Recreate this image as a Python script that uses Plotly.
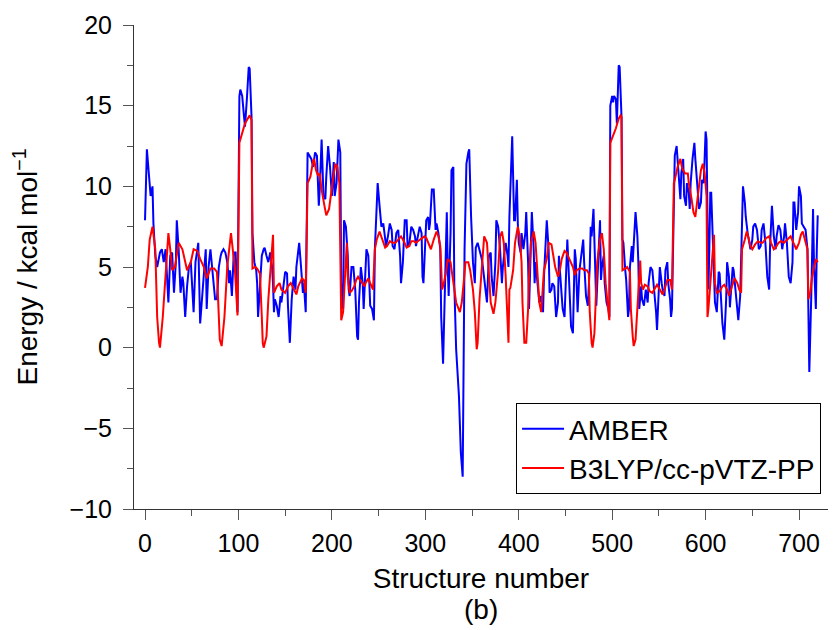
import plotly.graph_objects as go

# AMBER (blue) — structure number / energy
amber_x = [0,2,6,8,9,11,13,15,16,18,20,22,24,25,27,29,31,33,34,36,38,40,41,43,45,47,49,50,52,54,56,57,59,61,63,65,66,68,70,72,73,75,77,79,81,82,84,86,88,90,91,93,95,97,99,
101,102,104,106,107,109,111,112,114,115,117,119,120,121,123,125,127,128,130,132,134,136,137,138,139,141,143,145,146,148,150,152,153,155,157,159,161,162,164,165,167,169,170,172,
174,176,178,180,181,182,184,185,186,187,189,191,193,194,196,198,200,202,203,205,207,209,210,212,213,215,217,218,219,221,223,225,227,228,229,231,233,234,235,237,239,240,241,243,245,
246,248,249,251,253,255,257,258,260,262,264,265,267,269,271,273,274,276,278,280,281,283,285,287,289,290,292,294,296,297,298,299,301,303,304,305,307,309,311,312,314,316,317,319,320,
322,323,324,325,327,328,330,331,333,335,336,338,340,342,344,346,347,349,351,353,354,356,358,360,361,363,365,366,368,370,371,373,375,376,378,380,382,383,385,386,388,389,390,392,393,
394,395,396,398,399,400,402,403,405,407,408,410,411,413,414,416,417,418,420,422,424,426,427,429,430,432,433,435,436,438,440,442,443,445,447,449,451,452,454,456,458,460,461,463,465,
467,469,470,472,474,476,477,478,480,482,483,485,487,488,489,491,492,494,496,497,498,500,501,502,504,505,506,507,508,509,510,511,512,514,515,517,518,519,521,522,524,525,527,528,529,
531,532,534,536,538,539,541,543,545,547,548,550,551,553,554,556,557,559,560,562,563,564,566,567,569,570,572,573,574,576,577,579,580,582,583,584,586,588,589,591,593,595,596,598,599,
600,601,603,604,605,606,608,609,610,612,614,615,617,618,620,622,623,625,626,628,629,630,632,634,635,637,639,640,642,643,645,646,648,650,651,653,655,657,659,660,662,664,666,668,669,
671,673,675,676,678,680,682,684,685,687,689,691,693,694,695,697,699,700,702,703,705,707,709,710,711,713,714,715,716,718,719,720]
amber_y = [7.9,12.3,9.4,10.0,7.7,5.7,5.0,5.5,5.9,6.1,5.3,6.1,4.0,2.8,5.7,5.9,3.4,5.3,7.9,6.1,3.4,4.4,4.0,1.9,3.8,5.0,5.3,4.0,2.2,5.3,6.3,6.5,1.5,3.0,5.0,6.1,2.4,5.0,6.1,4.8,4.0,3.0,3.0,5.0,5.7,5.9,6.1,5.9,5.3,4.0,4.8,3.2,5.9,5.9,2.2,
15.6,16.0,15.6,14.3,13.7,15.4,17.4,17.3,14.3,7.1,5.3,4.8,4.0,1.9,4.0,5.7,6.1,6.2,5.7,5.3,5.9,5.0,4.0,2.2,3.0,2.6,1.9,3.2,2.8,3.6,4.7,4.6,2.6,0.3,3.0,4.4,3.6,5.0,6.1,6.5,5.0,3.4,4.0,2.2,
12.1,11.9,11.7,11.2,11.7,12.1,11.9,9.8,8.8,9.8,12.9,9.4,9.2,10.6,12.5,11.2,9.4,11.5,9.4,10.2,12.9,12.1,4.0,2.4,7.9,7.5,5.7,3.6,3.2,5.0,5.0,3.6,0.7,0.5,2.8,5.0,4.0,2.4,4.0,6.1,5.7,4.0,2.6,2.4,1.7,
6.1,9.8,10.2,8.8,7.5,7.7,6.5,6.3,6.9,7.7,7.3,6.3,6.1,7.1,7.3,5.7,4.0,5.3,7.9,7.9,6.3,6.5,7.5,7.3,6.9,6.3,6.9,7.5,7.1,4.4,4.0,5.3,7.9,8.1,7.3,7.7,9.8,9.8,7.3,7.7,7.1,6.1,1.9,-1.0,1.9,
6.1,8.4,5.0,3.2,7.1,11.0,11.2,4.0,-0.1,-2.5,-3.0,-6.5,-8.0,6.1,11.4,12.1,12.3,8.1,5.3,4.0,6.2,6.5,6.1,5.6,5.3,4.4,3.6,2.8,5.7,5.9,4.4,3.2,5.3,7.9,7.5,6.1,4.0,5.0,6.1,6.5,5.7,5.0,8.1,12.3,13.1,
10.6,7.9,7.9,10.4,7.7,6.5,5.9,7.1,6.1,7.1,8.4,5.3,2.4,6.1,8.4,6.1,4.0,5.3,4.0,2.8,3.2,2.2,4.4,6.7,7.9,6.1,3.4,3.6,4.0,3.8,1.9,2.8,5.7,4.0,2.4,1.9,5.3,6.7,4.0,1.3,0.9,6.1,5.5,2.2,4.8,
5.7,6.7,5.3,3.2,2.6,5.0,7.5,6.9,8.6,5.3,2.6,5.3,7.9,4.2,5.0,5.7,4.0,2.8,2.4,1.9,15.0,15.6,15.2,15.6,15.4,13.9,15.2,17.5,17.4,15.8,14.3,6.7,6.5,4.8,4.2,1.9,2.4,5.0,6.3,5.3,7.9,8.4,6.9,5.3,2.4,
3.8,3.0,2.6,3.6,2.8,4.0,5.0,4.8,3.6,2.2,1.1,3.6,5.0,4.0,3.6,3.2,4.8,5.3,4.0,3.0,1.9,2.4,10.2,11.9,12.5,11.7,9.8,9.2,10.8,11.7,9.4,8.8,10.2,9.6,8.6,10.2,11.7,12.7,11.7,9.8,8.6,9.0,10.4,10.2,11.7,
13.4,12.9,3.6,6.1,9.6,9.6,5.7,4.0,2.8,2.2,4.7,4.6,2.8,1.5,0.5,3.0,5.3,4.4,2.5,4.0,5.0,4.8,3.6,2.4,1.7,3.2,7.1,10.0,9.0,8.1,7.1,6.7,6.1,6.7,7.5,7.7,7.3,6.1,6.3,7.3,7.7,6.5,4.4,3.6,6.3,
8.8,6.9,6.1,6.9,7.6,7.3,6.1,6.9,7.7,6.5,4.4,4.0,5.3,9.0,9.0,7.3,8.4,10.0,9.4,7.7,7.5,7.3,6.1,1.9,-1.5,3.0,6.9,8.6,5.3,2.4,6.1,8.2]

# B3LYP/cc-pVTZ-PP (red)
b3lyp_x = [0,3,5,8,11,13,15,16,19,23,25,27,29,32,36,40,45,49,52,56,59,63,66,70,74,77,80,82,85,88,92,96,98,99,101,104,107,112,114,115,118,120,123,125,126,127,130,132,135,137,138,
141,144,146,150,153,156,159,162,164,168,170,172,174,177,180,181,183,185,187,189,192,194,197,199,202,204,206,208,210,212,214,216,217,219,221,224,226,228,230,233,235,236,239,241,244,
246,248,251,254,257,259,262,265,268,271,274,277,280,283,285,288,290,292,296,299,301,304,306,309,312,314,316,318,319,322,324,327,330,333,337,339,341,343,346,348,351,353,355,356,358,
361,363,366,368,370,373,375,378,380,382,384,386,388,389,390,391,394,396,399,401,403,404,406,408,410,411,413,416,418,420,422,424,426,427,430,432,435,437,439,442,444,446,449,451,454,
458,460,462,465,468,470,473,475,476,478,479,481,482,484,487,489,491,493,495,497,498,501,504,507,509,510,511,514,516,519,520,522,523,525,527,529,530,531,533,535,538,540,543,546,548,
551,554,556,559,562,564,566,567,570,573,575,578,581,582,585,587,589,590,593,595,597,599,601,602,603,605,607,609,610,612,615,618,620,623,625,628,631,634,636,638,639,642,644,646,648,
650,653,656,659,661,665,668,670,673,675,678,681,684,686,689,691,694,697,700,702,704,707,709,710,712,714,716,718,719,720]
b3lyp_y = [3.7,5.0,6.7,7.5,6.1,1.9,0.3,0.0,1.9,5.0,7.1,6.1,4.8,5.0,6.5,6.1,4.8,5.3,6.1,6.0,5.5,5.0,4.3,4.9,4.9,4.7,0.5,0.1,1.9,5.0,7.1,5.0,2.4,2.0,12.7,13.3,13.9,14.4,14.1,4.9,5.0,4.9,4.6,1.9,0.3,0.0,0.7,3.0,5.7,7.0,3.4,
3.8,4.0,3.6,3.4,3.8,4.0,3.6,3.3,3.8,4.3,4.2,3.4,10.2,10.6,11.6,11.7,11.0,10.7,10.8,9.8,8.8,8.2,8.6,9.6,10.8,11.4,11.2,10.2,1.7,2.2,4.0,6.5,4.4,3.4,3.5,3.8,4.2,4.4,4.2,4.0,3.8,4.0,4.3,4.0,3.6,
6.1,6.7,7.2,6.7,6.2,6.3,6.6,6.5,6.5,6.7,6.9,6.6,6.2,6.3,6.6,6.6,6.5,6.6,6.8,6.9,6.8,6.3,6.1,6.7,7.2,6.9,6.3,3.6,3.8,4.6,5.5,5.3,4.0,2.8,2.2,2.8,4.0,5.3,5.3,4.8,3.6,2.2,-0.1,0.3,3.0,
5.7,6.9,6.5,4.8,2.8,2.1,2.8,4.8,6.9,7.2,6.5,4.4,1.9,0.3,3.6,3.7,4.8,6.5,7.5,6.9,5.3,2.8,0.3,0.3,2.4,4.4,6.5,7.2,6.5,4.4,2.8,2.2,3.6,4.8,5.5,6.5,6.4,5.7,5.0,4.4,4.8,5.5,6.0,5.9,5.5,
5.0,4.5,4.8,4.9,4.9,4.8,4.8,4.6,2.2,0.3,0.0,0.9,2.8,5.3,6.7,7.1,6.1,4.0,2.8,1.7,12.7,13.1,13.6,14.2,14.4,14.3,4.8,4.9,5.0,4.7,2.4,0.7,0.1,0.5,2.4,4.0,5.4,4.0,3.6,3.9,3.8,3.5,3.4,3.7,3.9,
3.6,3.3,3.6,4.2,4.2,3.6,10.2,10.4,11.2,11.7,11.1,10.8,10.8,10.2,9.2,8.4,8.1,8.6,9.8,11.0,11.4,10.8,9.4,1.9,2.4,4.0,5.7,7.0,4.0,3.4,3.5,3.8,3.9,3.6,3.2,3.8,4.3,4.0,3.6,3.4,6.1,6.7,7.2,6.8,6.3,
6.1,6.4,6.6,6.5,6.5,6.8,6.9,6.5,6.1,6.2,6.5,6.6,6.5,6.6,6.8,6.9,6.5,6.1,6.5,7.0,7.2,6.6,6.1,3.0,3.4,4.4,5.0,5.5,5.4,5.3]

x_ticks = [0, 100, 200, 300, 400, 500, 600, 700]
y_ticks = [-10, -5, 0, 5, 10, 15, 20]
y_tick_text = ["\u221210", "\u22125", "0", "5", "10", "15", "20"]

FONT = "Liberation Sans, Arial, Helvetica, sans-serif"

fig = go.Figure()
fig.add_trace(go.Scatter(x=amber_x, y=amber_y, mode="lines", name="AMBER",
                         line=dict(color="#0000ff", width=2)))
fig.add_trace(go.Scatter(x=b3lyp_x, y=b3lyp_y, mode="lines", name="B3LYP/cc-pVTZ-PP",
                         line=dict(color="#ff0000", width=2)))

fig.update_layout(
    width=839, height=630,
    margin=dict(l=134, r=11, t=25, b=121),
    paper_bgcolor="white", plot_bgcolor="white",
    font=dict(family=FONT, size=26, color="black"),
    showlegend=True,
    legend=dict(x=0.99, y=0.031, xanchor="right", yanchor="bottom",
                bordercolor="black", borderwidth=1, bgcolor="white",
                font=dict(family=FONT, size=28, color="black"),
                itemwidth=42, tracegroupgap=0),
    xaxis=dict(range=[-11.8, 731], tickvals=x_ticks, showgrid=False, zeroline=False,
               showline=True, linecolor="#333", linewidth=1,
               ticks="outside", ticklen=10, tickcolor="#555", tickwidth=1,
               ticklabelstandoff=2,
               tickfont=dict(family=FONT, size=25),
               minor=dict(dtick=50, tick0=0, ticks="outside", ticklen=6, tickcolor="#555"),
               title=dict(text="Structure number", standoff=12,
                          font=dict(family=FONT, size=28))),
    yaxis=dict(range=[-10, 20], tickvals=y_ticks, ticktext=y_tick_text,
               showgrid=False, zeroline=False,
               showline=True, linecolor="#333", linewidth=1,
               ticks="outside", ticklen=10, tickcolor="#555", tickwidth=1,
               ticklabelstandoff=6,
               tickfont=dict(family=FONT, size=25),
               minor=dict(dtick=2.5, tick0=0, ticks="outside", ticklen=6, tickcolor="#555"),
               title=dict(text="Energy / kcal mol<sup>\u22121</sup>", standoff=23,
                          font=dict(family=FONT, size=28))),
)
fig.add_annotation(text="(b)", xref="paper", yref="paper", x=0.5, y=-0.207,
                   xanchor="center", yanchor="middle", showarrow=False,
                   font=dict(family=FONT, size=28, color="black"))

fig.write_html("out.html")
